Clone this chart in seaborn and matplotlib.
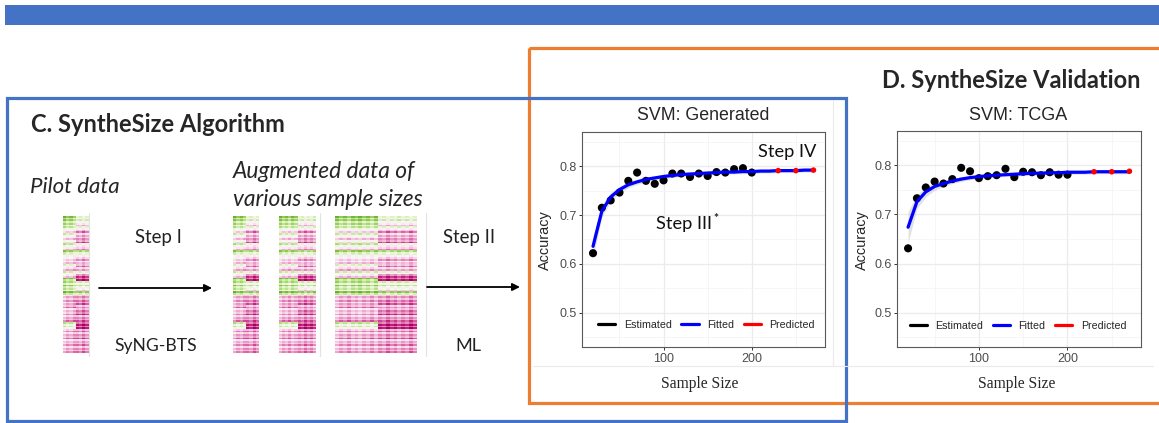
import numpy as np
import pandas as pd
import matplotlib
matplotlib.use("Agg")
import matplotlib.pyplot as plt
import seaborn as sns
from matplotlib.lines import Line2D
from matplotlib.patches import Rectangle

# ---------------- data ----------------
est_sizes = [20, 30, 40, 50, 60, 70, 80, 90, 100, 110, 120, 130, 140, 150, 160, 170, 180, 190, 200]
gen_est = [0.622, 0.715, 0.730, 0.746, 0.770, 0.787, 0.770, 0.764, 0.771, 0.785, 0.785, 0.778,
           0.785, 0.780, 0.788, 0.787, 0.794, 0.796, 0.787]
tcga_est = [0.631, 0.733, 0.755, 0.767, 0.763, 0.772, 0.795, 0.788, 0.774, 0.778, 0.780, 0.793,
            0.776, 0.787, 0.786, 0.780, 0.786, 0.781, 0.781]
pred_sizes = [230, 250, 270]
gen_pred = [0.791, 0.791, 0.792]
tcga_pred = [0.787, 0.787, 0.788]
fit_sizes = [20, 30, 40, 50, 60, 70, 80, 90, 100, 110, 120, 130, 140, 150, 160, 170, 180, 190,
             200, 210, 220, 230, 240, 250, 260, 270]
gen_fit = [0.636, 0.708, 0.737, 0.752, 0.762, 0.768, 0.773, 0.776, 0.779, 0.781, 0.783, 0.784,
           0.785, 0.786, 0.787, 0.788, 0.788, 0.789, 0.789, 0.790, 0.790, 0.791, 0.791, 0.791,
           0.792, 0.792]
gen_band = [0.022, 0.012, 0.009, 0.007, 0.006, 0.005, 0.005, 0.004, 0.004, 0.004, 0.004, 0.004,
            0.004, 0.004, 0.004, 0.004, 0.004, 0.004, 0.004, 0.004, 0.004, 0.004, 0.004, 0.004,
            0.004, 0.004]
tcga_fit = [0.674, 0.726, 0.746, 0.757, 0.763, 0.768, 0.772, 0.775, 0.777, 0.779, 0.780, 0.781,
            0.782, 0.783, 0.784, 0.784, 0.785, 0.785, 0.786, 0.786, 0.786, 0.787, 0.787, 0.787,
            0.787, 0.787]
tcga_band = [0.032, 0.014, 0.010, 0.008, 0.006, 0.005, 0.005, 0.004, 0.004, 0.004, 0.004, 0.004,
             0.004, 0.004, 0.004, 0.004, 0.004, 0.004, 0.004, 0.004, 0.004, 0.004, 0.004, 0.004,
             0.004, 0.004]
legend_labels = ["Estimated", "Fitted", "Predicted"]
panel_titles = ["SVM: Generated", "SVM: TCGA"]

# heatmap thumbnails: row pattern of the two sample groups
row_left = [0.6, 0.5, 0.4, 0.3, -0.2, 0.2, -0.3, -0.1, 0.3, -0.3, 0.5, 0.1, -0.2, -0.3, 0.1,
            -0.4, 0.2, -0.3, 0.6, 0.4, 0.5, 0.3, 0.6, -0.4, -0.5, -0.4, -0.6, -0.3, -0.5, -0.4,
            -0.6, 0.3, 0.2, -0.5, -0.4, -0.6, -0.3, -0.5, -0.4, -0.5]
row_right = [0.1, 0.2, -0.3, 0.1, -0.6, -0.4, -0.5, -0.7, 0.0, -0.5, 0.4, 0.1, -0.5, -0.3, -0.6,
             -0.4, 0.1, -0.8, -0.9, 0.2, 0.3, -0.2, 0.5, -0.5, -0.6, -0.7, -0.5, -0.6, -0.8, -0.5,
             -0.7, -0.9, -0.9, -0.6, -0.5, -0.7, -0.4, -0.6, -0.5, -0.6]
col_jitter = [0.12, -0.06, 0.05, -0.12, 0.08, -0.03]
sub_row_jitter = [0.15, -0.2]

# ---------------- figure ----------------
W, H = 1159, 423
sns.set_theme(style="white")
plt.rcParams["font.family"] = ["Liberation Sans", "DejaVu Sans"]
fig = plt.figure(figsize=(W / 100, H / 100), dpi=100)
fig.patch.set_facecolor("white")


def R(x0, y0, x1, y1):
    return [x0 / W, 1 - y1 / H, (x1 - x0) / W, (y1 - y0) / H]


bg = fig.add_axes([0, 0, 1, 1], zorder=-5)
bg.set_xlim(0, W)
bg.set_ylim(H, 0)
bg.axis("off")
T = bg.transData
renderer = fig.canvas.get_renderer()


def txt(x, y, s, target, vertical=False, **kw):
    t = fig.text(x, y, s, transform=T, **kw)
    ext = t.get_window_extent(renderer)
    cur = ext.height if vertical else ext.width
    t.set_fontsize(t.get_fontsize() * target / cur)
    return t


# frames
bg.add_patch(Rectangle((5, 5), W, 20, fc="#4472C4", ec="none"))
bg.add_patch(Rectangle((529, 48), 640, 355, fill=False, ec="#ED7D31", lw=2.3))
bg.add_patch(Rectangle((7, 98), 839, 323, fill=False, ec="#4472C4", lw=2.3))
# faint borders of pasted plot images
bg.plot([533, 1153], [366, 366], color="#EAEAEA", lw=0.8)
bg.plot([833, 833], [100, 366], color="#EAEAEA", lw=0.8)
for xv in (89, 320, 426):
    bg.plot([xv, xv], [213, 356], color="#E2E2E2", lw=0.8)

# arrows
for x0, x1, yv in ((99, 212, 288), (427, 520, 287)):
    bg.annotate("", xy=(x1, yv), xytext=(x0, yv),
                arrowprops=dict(arrowstyle="-|>", color="black", lw=1.3,
                                mutation_scale=11, shrinkA=0, shrinkB=0))

# texts (Calibri-like)
cal = "Lato"
txt(31, 132, "C. SyntheSize Algorithm", 255, family=cal, weight="bold", fontsize=16, va="baseline")
txt(1141, 88, "D. SyntheSize Validation", 259, family=cal, weight="bold", fontsize=16,
    va="baseline", ha="right")
txt(30, 193, "Pilot data", 90, family=cal, style="italic", fontsize=14, va="baseline")
txt(233, 178, "Augmented data of", 184, family=cal, style="italic", fontsize=14, va="baseline")
txt(233, 206, "various sample sizes", 191, family=cal, style="italic", fontsize=14, va="baseline")
txt(158, 243, "Step I", 47, family=cal, fontsize=12, ha="center", va="baseline", color="#222222")
txt(156, 351, "SyNG-BTS", 82, family=cal, fontsize=12, ha="center", va="baseline", color="#222222")
txt(469, 243, "Step II", 52, family=cal, fontsize=12, ha="center", va="baseline", color="#222222")
txt(468, 351, "ML", 26, family=cal, fontsize=12, ha="center", va="baseline", color="#222222")
txt(757.5, 157, "Step IV", 58, family=cal, fontsize=13, va="baseline", color="#111111")
txt(656.5, 229.5, "Step III", 56, family=cal, fontsize=13, va="baseline", color="#111111")
fig.text(715.5, 218.5, "*", transform=T, family=cal, weight="bold", fontsize=8.5,
         ha="center", va="center")

# heatmaps
def hm(nl, nr):
    left = np.array(row_left)[:, None] + np.resize(col_jitter, nl)[None, :]
    right = np.array(row_right)[:, None] + np.resize(col_jitter[::-1], nr)[None, :]
    base = np.hstack([left, right])
    rows = np.repeat(base, 2, axis=0)
    rows = rows + np.resize(sub_row_jitter, rows.shape[0])[:, None]
    return rows


heat_specs = [((63, 216, 88.5, 353), 4, 4), ((233, 216, 259, 353), 4, 4),
              ((279, 216, 316, 353), 6, 6), ((335, 216, 417, 353), 11, 10)]
for rect, nl, nr in heat_specs:
    axh = fig.add_axes(R(*rect))
    sns.heatmap(hm(nl, nr), ax=axh, cmap="PiYG", vmin=-1.3, vmax=1.3, cbar=False,
                xticklabels=False, yticklabels=False)

# ---------------- plots ----------------
panels = [
    (R(582, 132, 824.5, 347), gen_est, gen_fit, gen_band, gen_pred, 703, 545, 700, (0.514, 0.102)),
    (R(897, 131, 1140.5, 347), tcga_est, tcga_fit, tcga_band, tcga_pred, 1018, 862, 1017, (0.497, 0.099)),
]
for i, (rect, est, fit, band, pred, tx, ax_x, sx, lg) in enumerate(panels):
    ax = fig.add_axes(rect)
    ax.set_facecolor("white")
    fit_df = pd.DataFrame({"n": fit_sizes, "acc": fit, "band": band})
    ax.fill_between(fit_df["n"], fit_df["acc"] - fit_df["band"], fit_df["acc"] + fit_df["band"],
                    color="#BEBEBE", alpha=0.45, lw=0, zorder=2)
    sns.scatterplot(x=est_sizes, y=est, ax=ax, color="black", s=34, edgecolor="none", zorder=3)
    sns.lineplot(x=fit_df["n"], y=fit_df["acc"], ax=ax, color="#0000FF", lw=2.3, zorder=4)
    sns.scatterplot(x=pred_sizes, y=pred, ax=ax, color="#FF0000", s=16, edgecolor="none", zorder=5)
    ax.set_xlim(7.5, 282.5)
    ax.set_ylim(0.43, 0.87)
    ax.set_xticks([100, 200])
    ax.set_yticks([0.5, 0.6, 0.7, 0.8])
    ax.set_yticklabels(["0.5", "0.6", "0.7", "0.8"])
    ax.set_xticks([50, 150, 250], minor=True)
    ax.set_yticks([0.45, 0.55, 0.65, 0.75, 0.85], minor=True)
    ax.grid(which="major", color="#EBEBEB", lw=0.9)
    ax.grid(which="minor", color="#F3F3F3", lw=0.5)
    ax.set_axisbelow(True)
    ax.tick_params(which="minor", length=0)
    ax.tick_params(which="major", length=2.5, width=0.7, color="#333333", labelsize=9,
                   labelcolor="#4D4D4D", pad=1.5, direction="out")
    ax.tick_params(axis="x", bottom=True)
    ax.tick_params(axis="y", left=True)
    for sp in ax.spines.values():
        sp.set_color("#5A5A5A")
        sp.set_linewidth(0.8)
    ax.set_xlabel("")
    ax.set_ylabel("")
    handles = [Line2D([], [], color=c, lw=2.3) for c in ("black", "#0000FF", "#FF0000")]
    ax.legend(handles, legend_labels, loc="center", bbox_to_anchor=lg, ncol=3, frameon=False,
              prop=dict(family="Liberation Sans", size=7.7), handlelength=1.6,
              handletextpad=0.8, columnspacing=0.9)
    txt(tx, 120, panel_titles[i], 133 if i == 0 else 99, fontsize=11.5, ha="center",
        va="baseline", family="Liberation Sans")
    txt(ax_x, 240, "Accuracy", 60, vertical=True, fontsize=10.5, rotation=90, ha="center",
        va="center", family="Liberation Sans")
    txt(sx, 388, "Sample Size", 78, fontsize=11.5, ha="center", va="baseline",
        family="Liberation Serif")

fig.savefig("out.png", dpi=100)
